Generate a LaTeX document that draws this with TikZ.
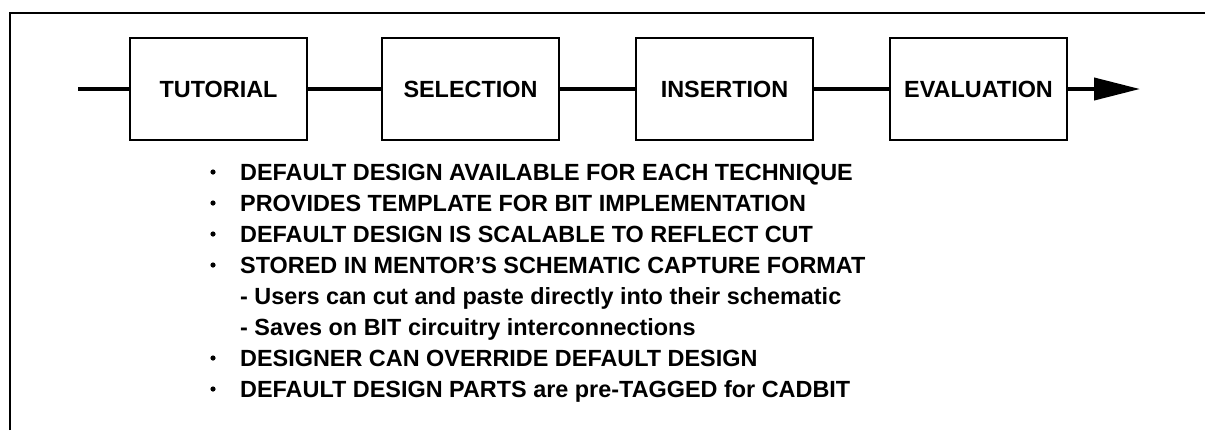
\documentclass[tikz,border=0pt]{standalone}
\usepackage{fontspec}
\setmainfont{Liberation Sans}
\usetikzlibrary{arrows.meta,positioning}

\begin{document}
\begin{tikzpicture}[
  x=1bp, y=-1bp,
  font=\fontsize{23.5}{27}\selectfont\bfseries,
  stage/.style={draw, line width=2.5bp, minimum width=177bp, minimum height=102bp, inner sep=0pt, outer sep=0pt},
  link/.style={line width=4bp},
  item/.style={anchor=base west, inner sep=0pt}
]
\useasboundingbox (0,0) rectangle (1206,430);
% frame, open on the right and at the bottom
\draw[line width=2bp] (10,430) -- (10,13) -- (1205,13);

% the four stages
\node[stage] (tut) at (218.5,89) {TUTORIAL};
\node[stage, right=75bp of tut] (sel) {SELECTION};
\node[stage, right=77bp of sel] (ins) {INSERTION};
\node[stage, right=77bp of ins] (eva) {EVALUATION};

\coordinate (start) at (78,89);
\coordinate (finish) at (1140,89);

\draw[link] (start) -- (tut);
\draw[link] (tut) -- (sel);
\draw[link] (sel) -- (ins);
\draw[link] (ins) -- (eva);
\draw[link, -{Triangle[length=46bp, width=22bp]}] (eva) -- (finish);

% notes
\node[item] (l1) at (240,180) {DEFAULT DESIGN AVAILABLE FOR EACH TECHNIQUE};
\node[item] (l2) at (240,211) {PROVIDES TEMPLATE FOR BIT IMPLEMENTATION};
\node[item] (l3) at (240,242) {DEFAULT DESIGN IS SCALABLE TO REFLECT CUT};
\node[item] (l4) at (240,273) {STORED IN MENTOR'S SCHEMATIC CAPTURE FORMAT};
\node[item] (l5) at (240,304) {- Users can cut and paste directly into their schematic};
\node[item] (l6) at (240,335) {- Saves on BIT circuitry interconnections};
\node[item] (l7) at (240,366) {DESIGNER CAN OVERRIDE DEFAULT DESIGN};
\node[item] (l8) at (240,397) {DEFAULT DESIGN PARTS are pre-TAGGED for CADBIT};

\foreach \n in {1,2,3,4,7,8}
  \fill ([shift={(-27bp,8bp)}]l\n.base west) circle (2.6bp);
\end{tikzpicture}
\end{document}
